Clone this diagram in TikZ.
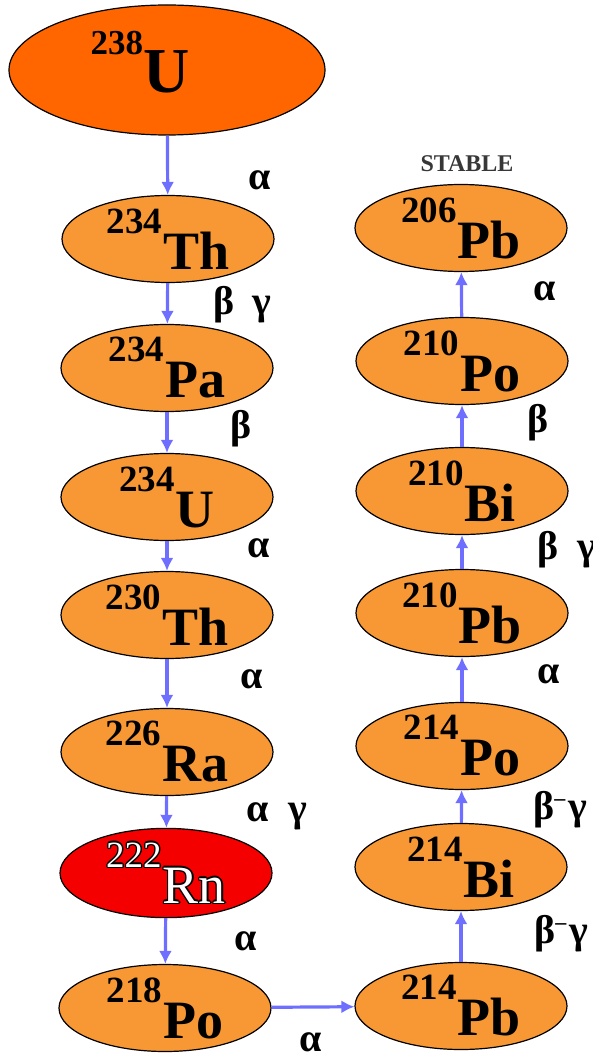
\documentclass[tikz,border=0pt]{standalone}
\usepackage{fontspec}
\setmainfont{Liberation Serif}
\usetikzlibrary{shapes.geometric,arrows.meta}
\definecolor{nucl}{RGB}{248,152,52}
\definecolor{uran}{RGB}{255,102,0}
\definecolor{radon}{RGB}{245,0,0}
\definecolor{decay}{RGB}{110,110,255}
\definecolor{stabgray}{RGB}{55,55,55}
\newcommand\iso[2]{\raisebox{36pt}{\fontsize{37}{37}\selectfont #1}\kern1pt{\fontsize{54}{54}\selectfont #2}}
\newcommand\blkcopy[3]{\rlap{\kern#1\raisebox{#2}{\color{black}#3}}}
\newcommand\outlined[1]{\blkcopy{-1.3pt}{0pt}{#1}\blkcopy{1.3pt}{0pt}{#1}\blkcopy{0pt}{1.3pt}{#1}\blkcopy{0pt}{-1.3pt}{#1}\blkcopy{-.9pt}{.9pt}{#1}\blkcopy{.9pt}{.9pt}{#1}\blkcopy{-.9pt}{-.9pt}{#1}\blkcopy{.9pt}{-.9pt}{#1}{\color{white}#1}}
\tikzset{
  nuc/.style={ellipse, draw=black, line width=1.2pt, fill=nucl, inner sep=0pt,
    minimum width=212pt, minimum height=87pt, font=\bfseries, text=black},
  decayarrow/.style={draw=decay, line width=3.2pt, -{Latex[length=13pt,width=13pt]}},
  greek/.style={font=\bfseries\fontsize{40}{40}\selectfont, inner sep=0pt, anchor=base west},
}
\begin{document}
\begin{tikzpicture}[x=1pt,y=-1pt]
\useasboundingbox (0,0) rectangle (593,1056);
\fill[black] (522,0) arc[start angle=180, end angle=360, x radius=18, y radius=4] -- cycle;
% left column
\node[nuc, fill=uran, minimum width=316pt, minimum height=130pt] (u238) at (167,70)
  {\raisebox{38pt}{\fontsize{35}{35}\selectfont 238}{\fontsize{64}{64}\selectfont U}\rule[-17pt]{0pt}{17pt}\kern54pt};
\node[nuc] (th234) at (168,239) {\iso{234}{Th}};
\node[nuc] (pa234) at (167,368) {\iso{234}{Pa}};
\node[nuc] (u234)  at (167,497) {\iso{234}{U}};
\node[nuc] (th230) at (167,615) {\iso{230}{Th}};
\node[nuc] (ra226) at (167,752) {\iso{226}{Ra}};
\node[nuc, fill=radon] (rn222) at (166,873) {\mdseries\outlined{\iso{222}{Rn}}};
\node[nuc] (po218) at (165,1008) {\iso{218}{Po}};
% right column
\node[nuc] (pb214) at (461,1006) {\iso{214}{Pb}};
\node[nuc] (bi214) at (461,867) {\iso{214}{Bi}};
\node[nuc] (po214) at (462,746) {\iso{214}{Po}};
\node[nuc] (pb210) at (462,613) {\iso{210}{Pb}};
\node[nuc] (bi210) at (462,491) {\iso{210}{Bi}};
\node[nuc] (po210) at (462,361) {\iso{210}{Po}};
\node[nuc] (pb206) at (461,228) {\iso{206}{Pb}};
\node[font=\bfseries\fontsize{24}{24}\selectfont, text=stabgray, inner sep=0pt] (stable) at (467,164) {STABLE};
% connectors
\draw[decayarrow] (u238) -- (th234);
\draw[decayarrow] (th234) -- (pa234);
\draw[decayarrow] (pa234) -- (u234);
\draw[decayarrow] (u234) -- (th230);
\draw[decayarrow] (th230) -- (ra226);
\draw[decayarrow] (ra226) -- (rn222);
\draw[decayarrow] (rn222) -- (po218);
\draw[decayarrow] (po218) -- (pb214);
\draw[decayarrow] (pb214) -- (bi214);
\draw[decayarrow] (bi214) -- (po214);
\draw[decayarrow] (po214) -- (pb210);
\draw[decayarrow] (pb210) -- (bi210);
\draw[decayarrow] (bi210) -- (po210);
\draw[decayarrow] (po210) -- (pb206);
% decay labels
\node[greek] (l1) at (248,190) {α};
\node[greek] (l2) at (213,314) {β\hspace{18pt}γ};
\node[greek] (l3) at (230,438) {β};
\node[greek] (l4) at (247,557) {α};
\node[greek] (l5) at (240,688) {α};
\node[greek] (l6) at (246,821) {α\hspace{20pt}γ};
\node[greek] (l7) at (234,950) {α};
\node[greek] (l8) at (299,1051) {α};
\node[greek] (r1) at (533,300) {α};
\node[greek] (r2) at (527,432) {β};
\node[greek] (r3) at (537,559) {β\hspace{19pt}γ};
\node[greek] (r4) at (537,683) {α};
\node[greek] (r5) at (533,819) {β\raisebox{14pt}{\fontsize{22}{22}\selectfont –}\hspace{3pt}γ};
\node[greek] (r6) at (534,943) {β\raisebox{14pt}{\fontsize{22}{22}\selectfont –}\hspace{3pt}γ};
\end{tikzpicture}
\end{document}
